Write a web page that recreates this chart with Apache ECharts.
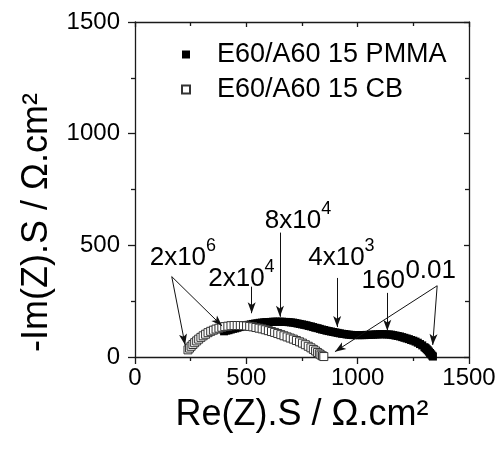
<!DOCTYPE html>
<html>
<head>
<meta charset="utf-8">
<script src="https://cdn.jsdelivr.net/npm/echarts@6/dist/echarts.min.js"></script>
<style>
  html, body { margin: 0; padding: 0; background: #fff; }
  #chart { width: 504px; height: 451px; }
</style>
</head>
<body>
<div id="chart"></div>
<script>
// E60/A60 15 PMMA (filled squares)
var pmmaRe = [400, 410, 420, 430, 440, 450, 460, 470, 480, 490, 500, 510, 520, 530, 540, 550, 560, 570,
    580, 590, 600, 610, 620, 630, 640, 650, 660, 670, 680, 690, 700, 710, 720, 730, 740, 750, 760, 770,
    780, 790, 800, 810, 820, 830, 840, 850, 860, 870, 880, 890, 900, 910, 920, 930, 940, 950, 960, 970,
    980, 990, 1000, 1010, 1020, 1030, 1040, 1050, 1060, 1070, 1080, 1090, 1100, 1110, 1120, 1130, 1140,
    1150, 1160, 1170, 1180, 1190, 1200, 1210, 1220, 1230, 1240, 1250, 1260, 1270, 1280, 1290, 1300,
    1305, 1310, 1315, 1320, 1325, 1330, 1335, 1338];
var pmmaIm = [115, 118, 120, 123, 126, 128, 131, 134, 136, 139, 142, 144, 146, 148, 150, 151, 153, 154,
    155, 156, 156, 157, 158, 158, 158, 158, 158, 157, 157, 156, 155, 154, 152, 150, 148, 146, 144, 142,
    139, 137, 134, 131, 129, 126, 123, 121, 118, 116, 114, 112, 110, 108, 106, 104, 103, 101, 100, 99,
    98, 98, 98, 98, 98, 98, 99, 99, 100, 100, 101, 101, 102, 102, 102, 101, 101,
    100, 98, 96, 94, 92, 89, 86, 83, 80, 76, 73, 69, 64, 58, 52, 44,
    40, 35, 30, 24, 18, 12, 6, 2];

// E60/A60 15 CB (open squares)
var cbRe = [238, 245, 252, 260, 268, 277, 286, 296, 306, 317, 328, 340, 352, 364, 377, 390, 403, 417,
    431, 445, 459, 473, 487, 501, 515, 529, 543, 557, 571, 585, 599, 613, 627, 641, 655, 669, 683, 697,
    711, 725, 739, 752, 765, 778, 790, 801, 811, 820, 828, 835, 842, 848];
var cbIm = [32, 40, 48, 56, 64, 72, 80, 88, 95, 102, 109, 115, 120, 125, 129, 133, 136, 138,
    140, 141, 141, 141, 140, 139, 137, 135, 132, 129, 126, 122, 118, 114, 110, 105, 100, 95, 90, 85,
    80, 74, 68, 62, 55, 48, 41, 34, 27, 20, 14, 9, 5, 2];

// frequency labels (Hz): mantissa, exponent, position in data units
var freqBase = ['2x10', '2x10', '8x10', '4x10', '160', '0.01'];
var freqExp = ['6', '4', '4', '3', '', ''];
var freqRe = [215, 478, 732, 927, 1115, 1328];
var freqIm = [463, 367, 627, 461, 360, 404];

// arrows from label to curve, data units
var arrowFrom = [[165, 360], [165, 360], [524, 315], [651, 557], [908, 354], [1133, 287], [1357, 319], [1357, 319]];
var arrowTo = [[225, 54], [391, 139], [524, 196], [651, 180], [908, 134], [1133, 118], [1337, 54], [898, 24]];

var xTicks = [0, 500, 1000, 1500];
var yTicks = [0, 500, 1000, 1500];

var chart = echarts.init(document.getElementById('chart'));
var font = 'Liberation Sans, Arial, Helvetica, sans-serif';

var pmmaData = [];
for (var i = 0; i < pmmaRe.length; i++) {
    pmmaData.push([pmmaRe[i], pmmaIm[i]]);
}
var cbData = [];
for (var i = 0; i < cbRe.length; i++) {
    cbData.push([cbRe[i], cbIm[i]]);
}
var labelData = [];
for (var i = 0; i < freqBase.length; i++) {
    labelData.push({
        value: [freqRe[i], freqIm[i]],
        text: freqExp[i] ? '{a|' + freqBase[i] + '}{s|' + freqExp[i] + '}' : '{a|' + freqBase[i] + '}'
    });
}
var arrowData = [];
for (var i = 0; i < arrowFrom.length; i++) {
    arrowData.push([{ coord: arrowFrom[i], symbol: 'none' }, { coord: arrowTo[i], symbol: 'arrow' }]);
}

var axisLineStyle = { color: '#1a1a1a', width: 1.3 };

function baseAxis(pos, ticksInside, showLabel, ticks) {
    return {
        type: 'value',
        position: pos,
        min: ticks[0],
        max: ticks[ticks.length - 1],
        interval: 500,
        axisLine: { show: true, onZero: false, lineStyle: axisLineStyle },
        axisTick: { show: true, inside: ticksInside, length: ticksInside ? 5 : 7, lineStyle: axisLineStyle },
        minorTick: { show: true, splitNumber: 2, length: 4, lineStyle: axisLineStyle },
        splitLine: { show: false },
        axisLabel: {
            show: showLabel,
            fontFamily: font,
            fontSize: 24,
            color: '#000',
            formatter: function (v) { return String(v); }
        }
    };
}

var xBottom = baseAxis('bottom', false, true, xTicks);
xBottom.axisLabel.margin = 9;
xBottom.name = 'Re(Z).S / \u03A9.cm\u00B2';
xBottom.nameLocation = 'middle';
xBottom.nameGap = 40;
xBottom.nameTextStyle = { fontFamily: font, fontSize: 36, color: '#000' };
var xTop = baseAxis('top', true, false, xTicks);

var yLeft = baseAxis('left', false, true, yTicks);
yLeft.axisLabel.margin = 15;
yLeft.name = '-Im(Z).S / \u03A9.cm\u00B2';
yLeft.nameLocation = 'middle';
yLeft.nameGap = 80;
// title sits a bit below the plot centre in the original
yLeft.nameTextStyle = { fontFamily: font, fontSize: 36, color: '#000', padding: [0, 66, 0, 0] };
var yRight = baseAxis('right', true, false, yTicks);

var option = {
    animation: false,
    backgroundColor: '#fff',
    grid: { left: 135, right: 35, top: 22, bottom: 94, containLabel: false },
    legend: {
        data: ['E60/A60 15 PMMA', 'E60/A60 15 CB'],
        orient: 'vertical',
        left: 176,
        top: 36,
        itemWidth: 8,
        itemHeight: 8,
        itemGap: 8,
        selectedMode: false,
        textStyle: { fontFamily: font, fontSize: 27, color: '#000', lineHeight: 27, padding: [0, 0, 0, 22] }
    },
    xAxis: [xBottom, xTop],
    yAxis: [yLeft, yRight],
    series: [
        {
            name: 'E60/A60 15 PMMA',
            type: 'scatter',
            symbol: 'rect',
            symbolSize: 8,
            itemStyle: { color: '#000', opacity: 1 },
            data: pmmaData,
            z: 2
        },
        {
            name: 'E60/A60 15 CB',
            type: 'scatter',
            symbol: 'rect',
            symbolSize: 8,
            itemStyle: { color: '#fff', borderColor: '#333', borderWidth: 1, opacity: 1 },
            data: cbData,
            z: 3
        },
        {
            name: 'freq',
            type: 'scatter',
            symbolSize: 0,
            silent: true,
            itemStyle: { opacity: 1 },
            data: labelData,
            label: {
                show: true,
                position: 'inside',
                formatter: function (p) { return p.data.text; },
                rich: {
                    a: { fontFamily: font, fontSize: 26, color: '#000', lineHeight: 34, verticalAlign: 'bottom' },
                    s: { fontFamily: font, fontSize: 18, color: '#000', lineHeight: 18, verticalAlign: 'top' }
                }
            },
            markLine: {
                silent: true,
                symbolSize: [6, 11],
                label: { show: false },
                lineStyle: { color: '#111', width: 1, type: 'solid' },
                data: arrowData
            },
            z: 4
        }
    ]
};
chart.setOption(option);
</script>
</body>
</html>
